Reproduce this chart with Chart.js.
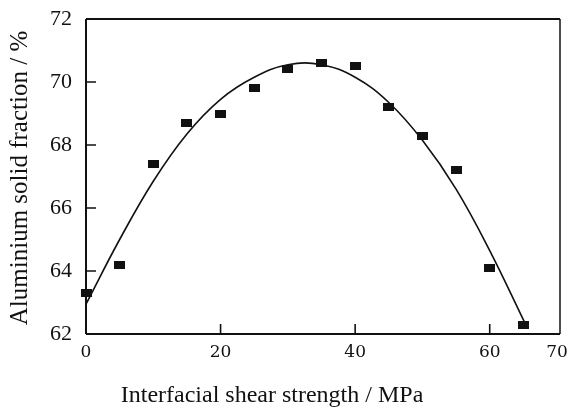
<!DOCTYPE html>
<html>
<head>
<meta charset="utf-8">
<script src="https://cdn.jsdelivr.net/npm/chart.js@4/dist/chart.umd.min.js"></script>
<style>
  html, body { margin: 0; padding: 0; background: #fff; }
  #wrap { width: 571px; height: 408px; }
</style>
</head>
<body>
<div id="wrap"><canvas id="c" width="571" height="408"></canvas></div>
<script>
// ---- data ----
const shearStrength = [0, 5, 10, 15, 20, 25, 30, 35, 40, 45, 50, 55, 60, 65];
const solidFraction = [63.3, 64.2, 67.4, 68.7, 69.0, 69.8, 70.4, 70.6, 70.5, 69.2, 68.3, 67.2, 64.1, 62.3];
const fitX = [0, 5, 10, 15, 20, 25, 30, 35, 40, 45, 50, 55, 60, 65.3];
const fitY = [62.95, 65.0, 66.85, 68.35, 69.45, 70.15, 70.55, 70.55, 70.15, 69.35, 68.15, 66.6, 64.65, 62.32];
const xTicks = [0, 20, 40, 60, 70];
const yTicks = [62, 64, 66, 68, 70, 72];
const xTitle = 'Interfacial shear strength / MPa';
const yTitle = 'Aluminium solid fraction / %';

// marker: small filled black rectangle
const marker = document.createElement('canvas');
marker.width = 11; marker.height = 8;
(function () { const m = marker.getContext('2d'); m.fillStyle = '#111'; m.fillRect(0, 0, 11, 8); })();

const frame = {
  id: 'frame',
  afterDraw(chart) {
    const { ctx, chartArea: a, scales } = chart;
    ctx.save();
    ctx.strokeStyle = '#111';
    // box
    ctx.lineWidth = 2;
    ctx.beginPath();
    ctx.moveTo(a.left, a.top); ctx.lineTo(a.right + 3, a.top);
    ctx.moveTo(a.left, a.top); ctx.lineTo(a.left, a.bottom);
    ctx.moveTo(a.left, a.bottom); ctx.lineTo(a.right + 3, a.bottom);
    ctx.stroke();
    ctx.lineWidth = 1.5;
    ctx.beginPath();
    ctx.moveTo(a.right + 3, a.top); ctx.lineTo(a.right + 3, a.bottom);
    ctx.stroke();
    // inward ticks
    ctx.lineWidth = 1.6;
    ctx.beginPath();
    yTicks.forEach(v => {
      if (v === yTicks[0] || v === yTicks[yTicks.length - 1]) return;
      const y = scales.y.getPixelForValue(v);
      ctx.moveTo(a.left, y); ctx.lineTo(a.left + 10, y);
    });
    xTicks.forEach(v => {
      if (v === 0 || v === 70) return;
      const x = scales.x.getPixelForValue(v);
      ctx.moveTo(x, a.bottom); ctx.lineTo(x, a.bottom - 10);
    });
    ctx.stroke();
    // titles
    ctx.fillStyle = '#111';
    ctx.textAlign = 'center';
    ctx.textBaseline = 'middle';
    ctx.font = '24px "Liberation Serif", serif';
    ctx.fillText(xTitle, 272, 396);
    ctx.font = '25px "Liberation Serif", serif';
    ctx.translate(20, 178);
    ctx.rotate(-Math.PI / 2);
    ctx.fillText(yTitle, 0, 0);
    ctx.restore();
  }
};

new Chart(document.getElementById('c'), {
  data: {
    datasets: [
      {
        type: 'line',
        data: fitX.map((x, i) => ({ x, y: fitY[i] })),
        borderColor: '#111',
        borderWidth: 1.6,
        pointRadius: 0,
        tension: 0.4,
        fill: false,
        clip: false
      },
      {
        type: 'scatter',
        data: shearStrength.map((x, i) => ({ x, y: solidFraction[i] })),
        pointStyle: marker,
        pointRadius: 5,
        clip: false
      }
    ]
  },
  options: {
    responsive: false,
    animation: false,
    devicePixelRatio: 1,
    layout: { padding: { top: 19, right: 14, bottom: 0, left: 0 } },
    plugins: { legend: { display: false }, tooltip: { enabled: false } },
    scales: {
      x: {
        type: 'linear',
        min: 0, max: 70,
        afterBuildTicks: s => { s.ticks = xTicks.map(v => ({ value: v })); },
        afterFit: s => { s.height = 74; s.paddingLeft = 0; s.paddingRight = 0; },
        grid: { display: false, drawTicks: false },
        border: { display: false },
        ticks: { color: '#111', padding: 8, maxRotation: 0, autoSkip: false,
                 font: { family: '"DejaVu Serif", serif', size: 17 } }
      },
      y: {
        type: 'linear',
        min: 62, max: 72,
        afterBuildTicks: s => { s.ticks = yTicks.map(v => ({ value: v })); },
        afterFit: s => { s.width = 86; s.paddingTop = 0; s.paddingBottom = 0; },
        grid: { display: false, drawTicks: false },
        border: { display: false },
        ticks: { color: '#111', padding: 14, autoSkip: false,
                 font: { family: '"Liberation Serif", serif', size: 22 } }
      }
    }
  },
  plugins: [frame]
});
</script>
</body>
</html>
